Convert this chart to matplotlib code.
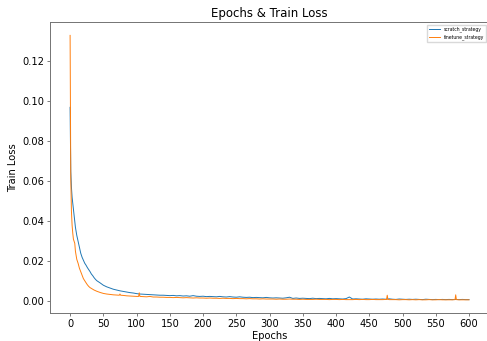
import matplotlib
matplotlib.use('Agg')
import matplotlib.pyplot as plt


# scratch_strategy (blue)
scratch_epochs = list(range(0, 11)) + [12, 14, 16, 18, 20, 22, 24, 26, 28, 30, 32, 34, 36, 38] + list(range(40, 605, 5))
scratch_loss = [
    0.097, 0.065, 0.057, 0.052, 0.049, 0.046, 0.043, 0.040, 0.037, 0.035, 0.033,
    0.030, 0.027, 0.024, 0.022, 0.0205, 0.019, 0.018, 0.0168, 0.0158, 0.0148, 0.0136, 0.0128, 0.0118, 0.011,
    # 40 .. 145
    0.0103, 0.0092, 0.0080, 0.0072, 0.0066, 0.0060, 0.0056, 0.0052, 0.0049, 0.0046, 0.0043,
    0.0041, 0.0038, 0.0036, 0.0035, 0.0034, 0.0033, 0.0032, 0.0031, 0.0030, 0.0030, 0.0029,
    # 150 .. 295
    0.0028, 0.0029, 0.0027, 0.0028, 0.0026, 0.0027, 0.0025, 0.0028, 0.0025, 0.0024,
    0.0025, 0.0023, 0.0024, 0.0023, 0.0022, 0.0024, 0.0022, 0.0021, 0.0023, 0.0021,
    0.0020, 0.0022, 0.0020, 0.0019, 0.0020, 0.0018, 0.0019, 0.0018, 0.0017, 0.0019,
    # 300 .. 445
    0.0017, 0.0016, 0.0017, 0.0016, 0.0015, 0.0017, 0.0020, 0.0014, 0.0016, 0.0014,
    0.0015, 0.0014, 0.0013, 0.0015, 0.0013, 0.0014, 0.0013, 0.0012, 0.0014, 0.0012,
    0.0013, 0.0012, 0.0011, 0.0013, 0.0021, 0.0011, 0.0012, 0.0011, 0.0010, 0.0012,
    # 450 .. 600
    0.0011, 0.0010, 0.0011, 0.0010, 0.0011, 0.0010, 0.0012, 0.0010, 0.0009, 0.0011,
    0.0010, 0.0009, 0.0010, 0.0009, 0.0010, 0.0009, 0.0008, 0.0010, 0.0009, 0.0008,
    0.0009, 0.0008, 0.0009, 0.0008, 0.0009, 0.0008, 0.0009, 0.0008, 0.0009, 0.0008, 0.0008,
]

# finetune_strategy (orange)
finetune_epochs = list(range(0, 11)) + [12, 14, 16, 18, 20, 22, 24, 26, 28, 30, 32, 34, 36, 38] + \
    [40, 45, 50, 55, 60, 65, 70, 74, 75, 76, 80, 85, 90, 95, 100, 103, 104, 105] + \
    list(range(110, 475, 5)) + [476, 477, 478] + list(range(480, 580, 5)) + [579, 580, 581] + list(range(585, 605, 5))
finetune_loss = [
    0.133, 0.062, 0.045, 0.038, 0.034, 0.031, 0.030, 0.029, 0.025, 0.023, 0.021,
    0.019, 0.0165, 0.0148, 0.013, 0.0113, 0.0102, 0.0092, 0.0082, 0.0074, 0.0068, 0.0064, 0.0060, 0.0056, 0.0053,
    # 40 .. 105
    0.0050, 0.0044, 0.0039, 0.0036, 0.0034, 0.0032, 0.0031, 0.0030, 0.0036, 0.0030, 0.0029,
    0.0027, 0.0026, 0.0025, 0.0024, 0.0024, 0.0042, 0.0024,
    # 110 .. 470
    0.0023, 0.0022, 0.0024, 0.0021, 0.0021, 0.0020, 0.0020, 0.0019,
    0.0019, 0.0018, 0.0019, 0.0018, 0.0017, 0.0018, 0.0017, 0.0016, 0.0017, 0.0016,
    0.0016, 0.0015, 0.0016, 0.0015, 0.0015, 0.0014, 0.0015, 0.0014, 0.0014, 0.0013,
    0.0014, 0.0013, 0.0013, 0.0012, 0.0013, 0.0012, 0.0012, 0.0011, 0.0012, 0.0011,
    0.0011, 0.0011, 0.0010, 0.0011, 0.0010, 0.0010, 0.0011, 0.0010, 0.0010, 0.0009,
    0.0010, 0.0009, 0.0009, 0.0009, 0.0010, 0.0009, 0.0009, 0.0009, 0.0008, 0.0009,
    0.0009, 0.0008, 0.0009, 0.0008, 0.0008, 0.0008,
    0.0009, 0.0008, 0.0009, 0.0008, 0.0008, 0.0009, 0.0008, 0.0008, 0.0008,
    # 476 .. 478
    0.0009, 0.0030, 0.0009,
    # 480 .. 575
    0.0008, 0.0008, 0.0008, 0.0007, 0.0008, 0.0008, 0.0007, 0.0008, 0.0007, 0.0008,
    0.0007, 0.0007, 0.0008, 0.0007, 0.0007, 0.0008, 0.0007, 0.0007, 0.0007, 0.0007,
    # 579 .. 581
    0.0008, 0.0032, 0.0008,
    # 585 .. 600
    0.0007, 0.0007, 0.0007, 0.0007,
]

fig = plt.figure(figsize=(4.87, 3.41), dpi=100)
ax = fig.add_axes([0.103, 0.082, 0.901, 0.853])

ax.plot(scratch_epochs, scratch_loss, color='#1f77b4', lw=0.7, label='scratch_strategy')
ax.plot(finetune_epochs, finetune_loss, color='#ff7f0e', lw=0.7, label='finetune_strategy')

ax.set_xticks(range(0, 601, 50))
ax.set_yticks([0.00, 0.02, 0.04, 0.06, 0.08, 0.10, 0.12])
ax.tick_params(labelsize=7.1, length=2.5, width=0.6, color='0.4', pad=2)
for sp in ax.spines.values():
    sp.set_color('0.45')
    sp.set_linewidth(0.7)

ax.set_title('Epochs & Train Loss', fontsize=8.5, pad=4)
ax.set_xlabel('Epochs', fontsize=7.1, labelpad=1)
ax.set_ylabel('Train Loss', fontsize=7.1, labelpad=3)

ax.legend(loc='upper right', fontsize=3.3, handlelength=2.5, borderaxespad=0.6, framealpha=1, edgecolor='0.85', fancybox=False)

fig.savefig('out.png', dpi=100)
